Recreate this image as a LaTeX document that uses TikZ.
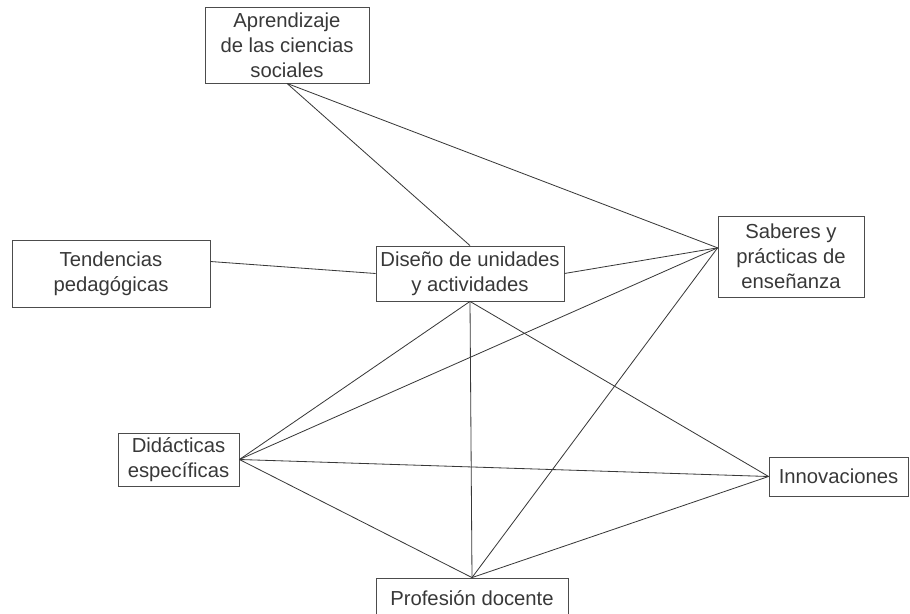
\documentclass[tikz,border=0pt]{standalone}
\usepackage{fontspec}
\setmainfont{Liberation Sans}

\begin{document}
\begin{tikzpicture}[x=0.03cm,y=-0.03cm,font=\fontsize{17.3}{21.4}\selectfont]
   \definecolor{inkgray}{rgb}{0.22, 0.22, 0.22}
   \definecolor{framegray}{rgb}{0.30, 0.30, 0.30}
   \tikzset{
      concept/.style={draw=framegray, line width=0.7pt, align=center, text=inkgray, inner sep=0pt},
      link/.style={inkgray, line width=0.7pt}
   }
   \useasboundingbox (0,0) rectangle (910,614);
   % boxes
   \node[concept, minimum width=4.92cm, minimum height=2.28cm] (apr) at (287,45)    {Aprendizaje\\de las ciencias\\sociales};
   \node[concept, minimum width=5.94cm, minimum height=2.01cm] (ten) at (111,273.5) {Tendencias\\pedagógicas};
   \node[concept, minimum width=5.64cm, minimum height=1.65cm] (dis) at (470,273.5) {Diseño de unidades\\y actividades};
   \node[concept, minimum width=4.38cm, minimum height=2.43cm] (sab) at (791,256.5) {Saberes y\\prácticas de\\enseñanza};
   \node[concept, minimum width=3.63cm, minimum height=1.59cm] (did) at (178.5,459.5) {Didácticas\\específicas};
   \node[concept, minimum width=4.17cm, minimum height=1.17cm] (inn) at (838.5,476.5) {Innovaciones};
   \node[concept, minimum width=5.76cm, minimum height=1.20cm] (pro) at (472,598)   {Profesión docente};
   % where the lines meet the boxes
   \coordinate (sabin) at ([yshift=0.26cm]sab.west);
   \coordinate (tenout) at ([yshift=0.36cm]ten.east);
   % links
   \draw[link] (apr.south) -- (dis.north);
   \draw[link] (apr.south) -- (sabin);
   \draw[link] (tenout) -- (dis.west);
   \draw[link] (dis.east) -- (sabin);
   \draw[link] (dis.south) -- (did.east);
   \draw[link] (dis.south) -- (pro.north);
   \draw[link] (dis.south) -- (inn.west);
   \draw[link] (did.east) -- (sabin);
   \draw[link] (did.east) -- (inn.west);
   \draw[link] (did.east) -- (pro.north);
   \draw[link] (pro.north) -- (sabin);
   \draw[link] (pro.north) -- (inn.west);
\end{tikzpicture}
\end{document}
